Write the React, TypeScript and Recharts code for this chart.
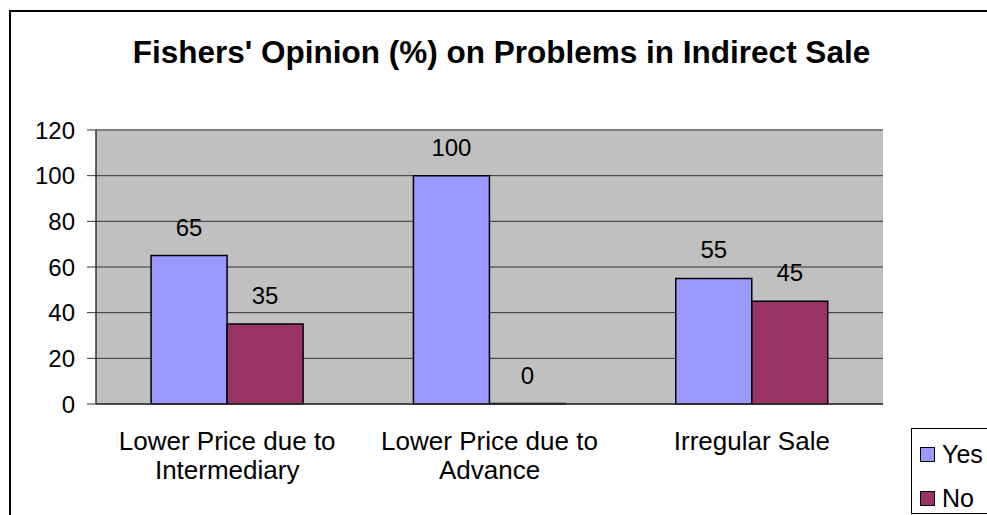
import React from 'react'
import { BarChart, Bar, XAxis, YAxis, CartesianGrid, LabelList, Legend, ReferenceLine } from 'recharts';

const categories = ['Lower Price due to\nIntermediary', 'Lower Price due to\nAdvance', 'Irregular Sale']
const seriesNames = ['Yes', 'No']
const yesValues = [65, 100, 55]
const noValues = [35, 0, 45]
const yTicks = [0, 20, 40, 60, 80, 100, 120]
const boundaryTicks = [0, 1, 2, 3]

const FONT = '"Liberation Sans", Arial, sans-serif'

const data = categories.map((name, i) => ({ name, Yes: yesValues[i], No: noValues[i] }))

const CategoryTick = ({ x, y, payload }: any) => {
  const lines = String(payload.value).split('\n')
  return (
    <g transform={`translate(${x},${y})`}>
      <text textAnchor="middle" fontSize={26} fill="#000" fontFamily={FONT}>
        {lines.map((l, i) => (
          <tspan key={i} x={0} dy={i === 0 ? 46 : 29}>{l}</tspan>
        ))}
      </text>
    </g>
  )
}

const LegendBox = ({ payload }: any) => {
  const items = [...(payload || [])].sort((a: any, b: any) => seriesNames.indexOf(a.value) - seriesNames.indexOf(b.value))
  return (
    <div style={{ position: 'relative', width: 100, height: 86, border: '1px solid #000', boxSizing: 'border-box', background: '#fff', fontFamily: FONT }}>
      {items.map((entry: any, i: number) => (
        <div key={entry.value} style={{ position: 'absolute', left: 8, top: 13 + i * 44, display: 'flex', alignItems: 'center' }}>
          <span style={{ width: 15, height: 15, background: entry.color, border: '1px solid #000', boxSizing: 'border-box', display: 'inline-block' }} />
          <span style={{ fontSize: 25, marginLeft: 7, lineHeight: '24px', color: '#000' }}>{entry.value}</span>
        </div>
      ))}
    </div>
  )
}

const App = () => {
  return (
    <div style={{ position: 'fixed', left: 0, top: 0, width: 987, height: 515, overflow: 'hidden', background: '#fff' }}>
      <div style={{ position: 'absolute', left: 9, top: 10, width: 1000, height: 600, border: '2px solid #000', boxSizing: 'border-box' }} />
      <div style={{ position: 'absolute', left: 0, top: 36, width: 1003, textAlign: 'center', fontFamily: FONT, fontWeight: 'bold', fontSize: 31.5, lineHeight: '32px', color: '#000' }}>
        Fishers' Opinion (%) on Problems in Indirect Sale
      </div>
      <div style={{ position: 'absolute', left: 0, top: 0 }}>
        <BarChart
          width={987}
          height={515}
          data={data}
          barCategoryGap="21%"
          barGap={0}
          margin={{ top: 130, right: 104, bottom: 31, left: 36 }}
        >
          <CartesianGrid fill="#C0C0C0" vertical={false} stroke="#333" fillOpacity={1} />
          <XAxis xAxisId="bounds" type="number" domain={[0, 3]} ticks={boundaryTicks} allowDataOverflow
            height={0} axisLine={false} tick={false} tickSize={8} tickLine={{ stroke: '#333' }} />
          <XAxis xAxisId="cat" dataKey="name" height={80} tickLine={false} tickSize={0} tickMargin={0}
            axisLine={{ stroke: '#333', strokeWidth: 1.5 }} tick={<CategoryTick />} interval={0} />
          <YAxis domain={[0, 120]} ticks={yTicks} width={60} tickSize={9} tickMargin={12} interval={0}
            axisLine={{ stroke: '#333', strokeWidth: 1.5 }} tickLine={{ stroke: '#333' }}
            tick={{ fontSize: 24, fill: '#000', fontFamily: FONT }} />
          <YAxis yAxisId="r" orientation="right" domain={[0, 120]} width={0} tick={false} tickLine={false}
            axisLine={{ stroke: '#808080', strokeWidth: 2 }} />
          <ReferenceLine y={120} xAxisId="cat" stroke="#808080" strokeWidth={2} />
          <Legend layout="vertical" align="center" verticalAlign="middle" content={<LegendBox />}
            wrapperStyle={{ left: 911, top: 428, width: 100, height: 86 }} />
          <Bar xAxisId="cat" dataKey="Yes" fill="#9999FF" stroke="#000" strokeWidth={1.5} minPointSize={0.5} isAnimationActive={false}>
            <LabelList dataKey="Yes" position="top" offset={20} fill="#000" fontSize={24} fontFamily={FONT} />
          </Bar>
          <Bar xAxisId="cat" dataKey="No" fill="#993366" stroke="#000" strokeWidth={1.5} minPointSize={0.5} isAnimationActive={false}>
            <LabelList dataKey="No" position="top" offset={20} fill="#000" fontSize={24} fontFamily={FONT} />
          </Bar>
        </BarChart>
      </div>
    </div>
  )
}

export default App
